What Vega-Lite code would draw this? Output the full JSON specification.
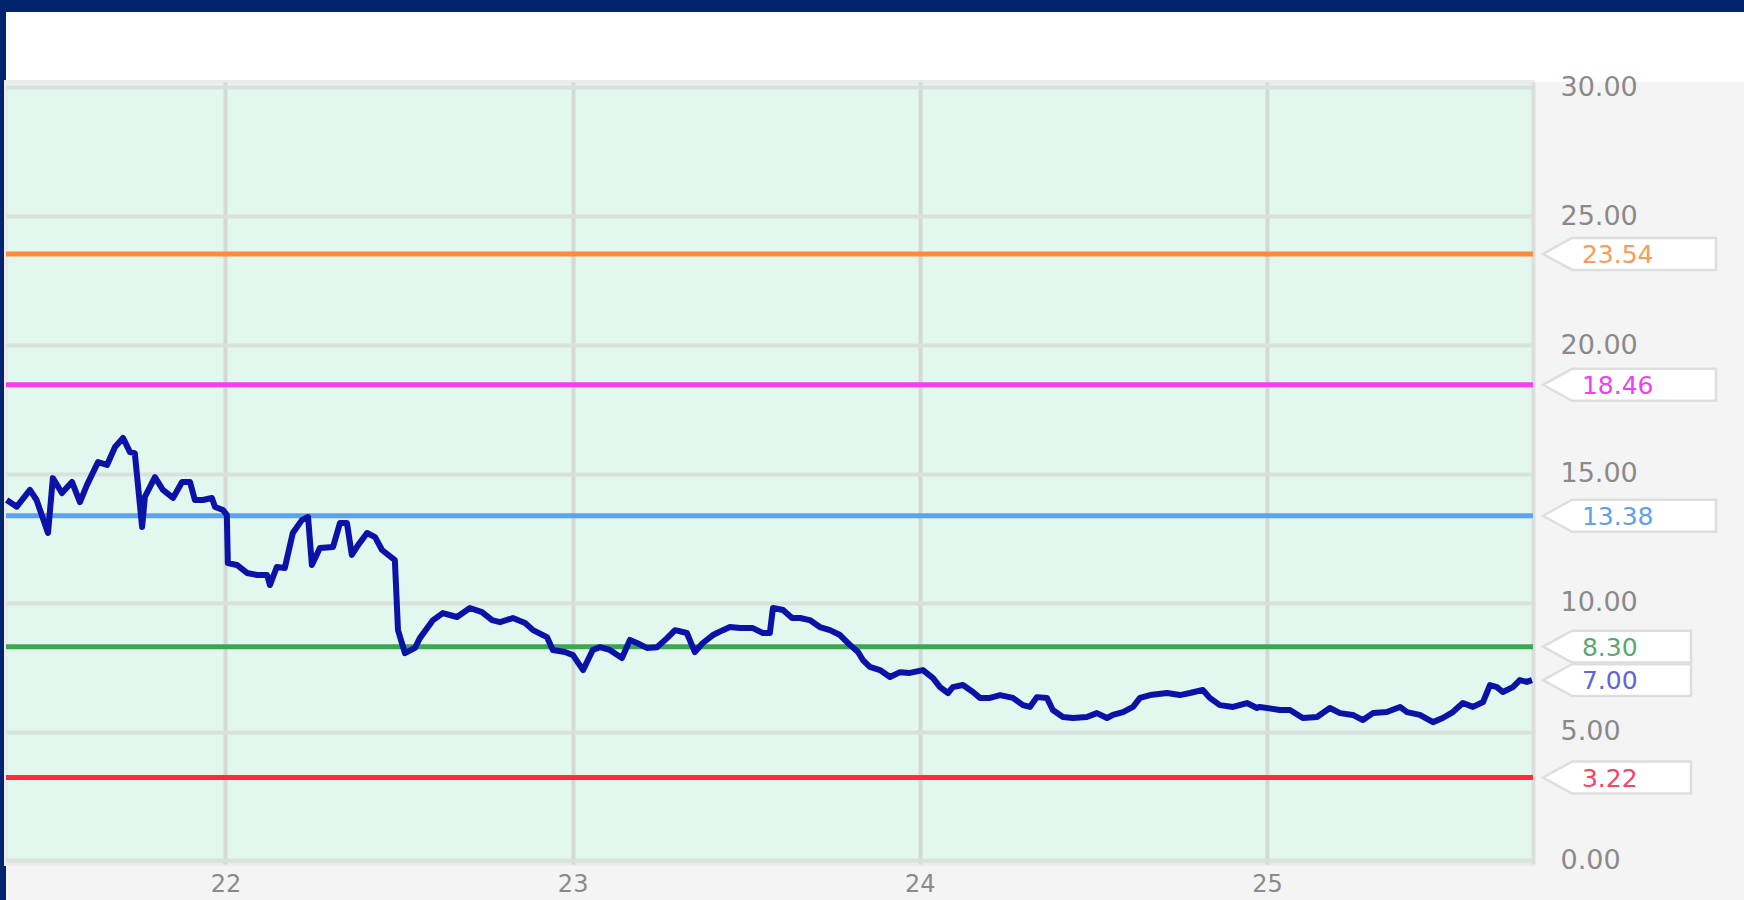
{
  "$schema": "https://vega.github.io/schema/vega-lite/v6.json",
  "background": "#f4f4f4",
  "padding": 0,
  "autosize": {"type": "pad"},
  "config": {"axis": {"title": null}},
  "datasets": {
    "levels": [
      {"level": "A", "value": 23.54},
      {"level": "B", "value": 18.46},
      {"level": "C", "value": 13.38},
      {"level": "D", "value": 8.30},
      {"level": "E", "value": 3.22},
      {"level": "Last", "value": 7.00}
    ],
    "price": [
      {"t": 21.370, "v": 13.99}, {"t": 21.399, "v": 13.73}, {"t": 21.437, "v": 14.38}, {"t": 21.456, "v": 13.99},
      {"t": 21.489, "v": 12.71}, {"t": 21.503, "v": 14.84}, {"t": 21.529, "v": 14.26}, {"t": 21.558, "v": 14.69},
      {"t": 21.581, "v": 13.91}, {"t": 21.601, "v": 14.57}, {"t": 21.633, "v": 15.46}, {"t": 21.659, "v": 15.35},
      {"t": 21.682, "v": 16.05}, {"t": 21.705, "v": 16.40}, {"t": 21.725, "v": 15.85}, {"t": 21.739, "v": 15.81},
      {"t": 21.760, "v": 12.94}, {"t": 21.768, "v": 14.11}, {"t": 21.797, "v": 14.88}, {"t": 21.820, "v": 14.38},
      {"t": 21.849, "v": 14.07}, {"t": 21.875, "v": 14.69}, {"t": 21.898, "v": 14.69}, {"t": 21.912, "v": 13.99},
      {"t": 21.935, "v": 13.99}, {"t": 21.961, "v": 14.07}, {"t": 21.970, "v": 13.72}, {"t": 21.993, "v": 13.60},
      {"t": 22.004, "v": 13.41}, {"t": 22.007, "v": 11.54}, {"t": 22.033, "v": 11.47}, {"t": 22.062, "v": 11.16},
      {"t": 22.091, "v": 11.08}, {"t": 22.120, "v": 11.08}, {"t": 22.128, "v": 10.69}, {"t": 22.148, "v": 11.39},
      {"t": 22.171, "v": 11.35}, {"t": 22.194, "v": 12.71}, {"t": 22.220, "v": 13.21}, {"t": 22.238, "v": 13.33},
      {"t": 22.249, "v": 11.47}, {"t": 22.272, "v": 12.13}, {"t": 22.310, "v": 12.17}, {"t": 22.330, "v": 13.10},
      {"t": 22.350, "v": 13.10}, {"t": 22.364, "v": 11.86}, {"t": 22.382, "v": 12.24}, {"t": 22.408, "v": 12.71},
      {"t": 22.431, "v": 12.55}, {"t": 22.451, "v": 12.05}, {"t": 22.488, "v": 11.66}, {"t": 22.497, "v": 8.94},
      {"t": 22.517, "v": 8.05}, {"t": 22.546, "v": 8.25}, {"t": 22.560, "v": 8.63}, {"t": 22.598, "v": 9.33},
      {"t": 22.626, "v": 9.60}, {"t": 22.667, "v": 9.45}, {"t": 22.704, "v": 9.80}, {"t": 22.739, "v": 9.64},
      {"t": 22.768, "v": 9.33}, {"t": 22.791, "v": 9.25}, {"t": 22.828, "v": 9.41}, {"t": 22.863, "v": 9.22},
      {"t": 22.886, "v": 8.94}, {"t": 22.926, "v": 8.67}, {"t": 22.943, "v": 8.17}, {"t": 22.978, "v": 8.09},
      {"t": 23.001, "v": 7.97}, {"t": 23.030, "v": 7.39}, {"t": 23.058, "v": 8.17}, {"t": 23.079, "v": 8.28},
      {"t": 23.107, "v": 8.17}, {"t": 23.142, "v": 7.86}, {"t": 23.165, "v": 8.56}, {"t": 23.185, "v": 8.44},
      {"t": 23.214, "v": 8.25}, {"t": 23.243, "v": 8.28}, {"t": 23.272, "v": 8.63}, {"t": 23.295, "v": 8.94},
      {"t": 23.329, "v": 8.83}, {"t": 23.352, "v": 8.09}, {"t": 23.375, "v": 8.44}, {"t": 23.404, "v": 8.75},
      {"t": 23.433, "v": 8.94}, {"t": 23.453, "v": 9.06}, {"t": 23.482, "v": 9.02}, {"t": 23.519, "v": 9.02},
      {"t": 23.548, "v": 8.83}, {"t": 23.568, "v": 8.83}, {"t": 23.577, "v": 9.80}, {"t": 23.606, "v": 9.72},
      {"t": 23.632, "v": 9.41}, {"t": 23.655, "v": 9.41}, {"t": 23.683, "v": 9.33}, {"t": 23.712, "v": 9.06},
      {"t": 23.741, "v": 8.94}, {"t": 23.770, "v": 8.75}, {"t": 23.799, "v": 8.36}, {"t": 23.822, "v": 8.09},
      {"t": 23.836, "v": 7.78}, {"t": 23.856, "v": 7.51}, {"t": 23.885, "v": 7.39}, {"t": 23.914, "v": 7.12},
      {"t": 23.943, "v": 7.31}, {"t": 23.971, "v": 7.28}, {"t": 24.009, "v": 7.39}, {"t": 24.038, "v": 7.08},
      {"t": 24.058, "v": 6.73}, {"t": 24.081, "v": 6.50}, {"t": 24.095, "v": 6.73}, {"t": 24.124, "v": 6.81},
      {"t": 24.153, "v": 6.54}, {"t": 24.173, "v": 6.31}, {"t": 24.202, "v": 6.31}, {"t": 24.231, "v": 6.42},
      {"t": 24.268, "v": 6.31}, {"t": 24.297, "v": 6.03}, {"t": 24.317, "v": 5.96}, {"t": 24.337, "v": 6.34},
      {"t": 24.366, "v": 6.31}, {"t": 24.383, "v": 5.84}, {"t": 24.412, "v": 5.57}, {"t": 24.441, "v": 5.53},
      {"t": 24.481, "v": 5.57}, {"t": 24.510, "v": 5.72}, {"t": 24.539, "v": 5.53}, {"t": 24.556, "v": 5.65},
      {"t": 24.585, "v": 5.76}, {"t": 24.614, "v": 5.96}, {"t": 24.634, "v": 6.31}, {"t": 24.663, "v": 6.42},
      {"t": 24.712, "v": 6.50}, {"t": 24.749, "v": 6.42}, {"t": 24.778, "v": 6.50}, {"t": 24.815, "v": 6.62},
      {"t": 24.835, "v": 6.31}, {"t": 24.864, "v": 6.03}, {"t": 24.902, "v": 5.96}, {"t": 24.942, "v": 6.11},
      {"t": 24.971, "v": 5.92}, {"t": 24.979, "v": 5.96}, {"t": 25.037, "v": 5.84}, {"t": 25.066, "v": 5.84},
      {"t": 25.103, "v": 5.53}, {"t": 25.144, "v": 5.57}, {"t": 25.181, "v": 5.92}, {"t": 25.210, "v": 5.72},
      {"t": 25.247, "v": 5.65}, {"t": 25.276, "v": 5.45}, {"t": 25.305, "v": 5.72}, {"t": 25.345, "v": 5.76},
      {"t": 25.383, "v": 5.96}, {"t": 25.403, "v": 5.76}, {"t": 25.440, "v": 5.65}, {"t": 25.478, "v": 5.37},
      {"t": 25.506, "v": 5.53}, {"t": 25.535, "v": 5.76}, {"t": 25.564, "v": 6.11}, {"t": 25.593, "v": 5.96},
      {"t": 25.622, "v": 6.15}, {"t": 25.642, "v": 6.81}, {"t": 25.662, "v": 6.73}, {"t": 25.679, "v": 6.54},
      {"t": 25.708, "v": 6.73}, {"t": 25.728, "v": 7.00}, {"t": 25.748, "v": 6.93}, {"t": 25.763, "v": 7.00}
    ]
  },
  "hconcat": [
    {
      "width": 6,
      "height": 900,
      "data": {"values": []},
      "mark": "rect",
      "encoding": {},
      "view": {"fill": "#00246e", "stroke": null}
    },
    {
      "vconcat": [
        {
          "width": 1738,
          "height": 12,
          "data": {"values": []},
          "mark": "rect",
          "encoding": {},
          "view": {"fill": "#00246e", "stroke": null}
        },
        {
          "width": 1738,
          "height": 70,
          "data": {"values": []},
          "mark": "rect",
          "encoding": {},
          "view": {"fill": "#ffffff", "stroke": null}
        },
        {
          "width": 1527,
          "height": 782,
          "view": {"fill": "#e2f7ee", "stroke": "#ebebeb", "strokeWidth": 4},
          "layer": [
            {
              "data": {"name": "levels"},
              "transform": [{"filter": "datum.level != 'Last'"}],
              "mark": {"type": "rule", "strokeWidth": 5},
              "encoding": {
                "y": {
                  "field": "value",
                  "type": "quantitative",
                  "title": null,
                  "scale": {"domain": [-0.136, 30.213], "nice": false, "zero": false},
                  "axis": {
                    "orient": "right",
                    "values": [0, 5, 10, 15, 20, 25, 30],
                    "format": ".2f",
                    "grid": true,
                    "gridColor": "#d9e1dc",
                    "gridWidth": 4,
                    "ticks": false,
                    "tickSize": 0,
                    "domain": true,
                    "domainColor": "#dddddd",
                    "domainWidth": 4,
                    "labelAlign": "left",
                    "labelPadding": 27,
                    "labelFont": "DejaVu Sans",
                    "labelFontSize": 27,
                    "labelColor": "#8a8a8a",
                    "labelBaseline": "middle"
                  }
                },
                "stroke": {
                  "field": "level",
                  "type": "nominal",
                  "legend": null,
                  "scale": {
                    "domain": ["A", "B", "C", "D", "E"],
                    "range": ["#ff8a3d", "#f83cef", "#5aa2f4", "#3ea552", "#ff2c3a"]
                  }
                }
              }
            },
            {
              "data": {"name": "price"},
              "mark": {"type": "line", "stroke": "#0a12a8", "strokeWidth": 6, "strokeJoin": "round"},
              "encoding": {
                "x": {
                  "field": "t",
                  "type": "quantitative",
                  "title": null,
                  "scale": {"domain": [21.368, 25.766], "nice": false, "zero": false},
                  "axis": {
                    "orient": "bottom",
                    "values": [22, 23, 24, 25],
                    "format": "d",
                    "grid": true,
                    "gridColor": "#d4d9d6",
                    "gridWidth": 4,
                    "ticks": false,
                    "tickSize": 0,
                    "domain": false,
                    "labelPadding": 8,
                    "labelFont": "DejaVu Sans",
                    "labelFontSize": 24,
                    "labelColor": "#8a8a8a"
                  }
                },
                "y": {"field": "v", "type": "quantitative", "title": null}
              }
            },
            {
              "data": {"name": "levels"},
              "transform": [{"filter": "datum.value >= 10"}],
              "mark": {
                "type": "point",
                "shape": "M-1,0L-0.665,-0.185L1,-0.185L1,0.185L-0.665,0.185Z",
                "size": 29929,
                "filled": true,
                "fill": "#ffffff",
                "stroke": "#dedede",
                "strokeWidth": 2.5,
                "opacity": 1
              },
              "encoding": {
                "x": {"datum": 26.044, "type": "quantitative"},
                "y": {"field": "value", "type": "quantitative"}
              }
            },
            {
              "data": {"name": "levels"},
              "transform": [{"filter": "datum.value < 10"}],
              "mark": {
                "type": "point",
                "shape": "M-1,0L-0.608,-0.216L1,-0.216L1,0.216L-0.608,0.216Z",
                "size": 21904,
                "filled": true,
                "fill": "#ffffff",
                "stroke": "#dedede",
                "strokeWidth": 2.5,
                "opacity": 1
              },
              "encoding": {
                "x": {"datum": 26.008, "type": "quantitative"},
                "y": {"field": "value", "type": "quantitative"}
              }
            },
            {
              "data": {"name": "levels"},
              "mark": {"type": "text", "font": "DejaVu Sans", "fontSize": 25, "align": "left", "baseline": "middle", "dy": 1},
              "encoding": {
                "x": {"datum": 25.907, "type": "quantitative"},
                "y": {"field": "value", "type": "quantitative"},
                "text": {"field": "value", "type": "quantitative", "format": ".2f"},
                "fill": {
                  "field": "level",
                  "type": "nominal",
                  "legend": null,
                  "scale": {
                    "domain": ["A", "B", "C", "D", "E", "Last"],
                    "range": ["#ff9a55", "#f040ee", "#5f9ff2", "#58a870", "#ff4262", "#6464d6"]
                  }
                }
              }
            }
          ]
        }
      ],
      "spacing": 0,
      "bounds": "flush"
    }
  ],
  "spacing": 0,
  "bounds": "flush"
}
